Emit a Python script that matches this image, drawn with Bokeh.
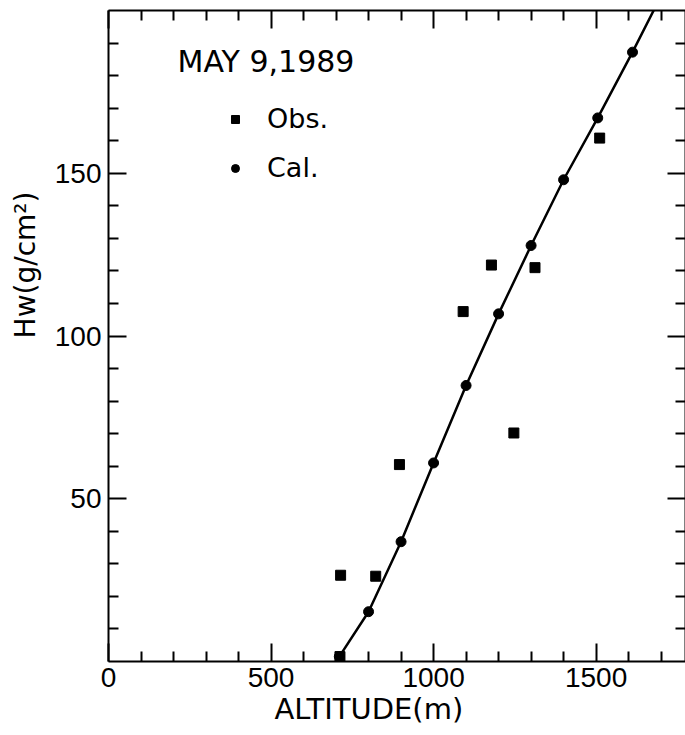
from bokeh.plotting import figure
from bokeh.models import (Range1d, LinearAxis, FixedTicker, Label, Legend, LegendItem,
                          ColumnDataSource, Title, CustomJSTickFormatter)
from bokeh.embed import file_html
from bokeh.resources import INLINE

# ---- data ----
obs_alt = [712, 714, 822, 895, 1091, 1178, 1247, 1312, 1511]
obs_hw = [1.5, 26.5, 26.2, 60.5, 107.5, 121.8, 70.2, 121.0, 160.8]

cal_alt = [710, 800, 900, 1000, 1100, 1200, 1300, 1400, 1505, 1612]
cal_hw = [1.5, 15.3, 36.8, 61.0, 84.8, 106.8, 127.8, 148.0, 167.0, 187.2]

# fitted line: through the calculated points, continued to the top of the frame
line_alt = cal_alt + [1677]
line_hw = cal_hw + [200]

x_major = [0, 500, 1000, 1500]
x_minor = [100, 200, 300, 400, 600, 700, 800, 900, 1100, 1200, 1300, 1400, 1600, 1700]
y_major = [50, 100, 150]
y_minor = [10, 20, 30, 40, 60, 70, 80, 90, 110, 120, 130, 140, 160, 170, 180, 190]

date_text = "MAY 9,1989"
x_title = "ALTITUDE(m)"
y_title = "Hw(g/cm²)"
obs_name = "Obs."
cal_name = "Cal."

WORD_FONT = "DejaVu Sans"
NUM_FONT = "Liberation Sans"

p = figure(width=685, height=735, output_backend="svg", toolbar_location=None,
           x_range=Range1d(0, 1775), y_range=Range1d(0, 200),
           x_axis_location=None, y_axis_location=None,
           min_border_left=108, min_border_right=0, min_border_top=10, min_border_bottom=74)
p.grid.visible = False
p.outline_line_color = None
p.background_fill_color = "white"
p.border_fill_color = "white"


def style_axis(ax, show_labels):
    ax.axis_line_width = 2
    ax.axis_line_color = "black"
    ax.major_tick_in = 18
    ax.major_tick_out = 0
    ax.minor_tick_in = 10
    ax.minor_tick_out = 0
    ax.major_tick_line_width = 2
    ax.minor_tick_line_width = 2
    ax.major_tick_line_color = "black"
    ax.minor_tick_line_color = "black"
    if show_labels:
        ax.major_label_text_font = NUM_FONT
        ax.major_label_text_font_size = "28px"
        ax.major_label_text_color = "black"
    else:
        ax.formatter = CustomJSTickFormatter(code="return ''")
        ax.major_label_standoff = 0


xt = FixedTicker(ticks=x_major, minor_ticks=x_minor)
yt = FixedTicker(ticks=y_major, minor_ticks=y_minor)

bottom = LinearAxis(ticker=xt)
style_axis(bottom, True)
bottom.major_label_standoff = 6
top = LinearAxis(ticker=xt)
style_axis(top, False)
left = LinearAxis(ticker=yt)
style_axis(left, True)
left.major_label_standoff = 7
right = LinearAxis(ticker=yt)
style_axis(right, False)

p.add_layout(bottom, "below")
p.add_layout(top, "above")
p.add_layout(left, "left")
p.add_layout(right, "right")

p.add_layout(Title(text=x_title, align="left", offset=166, standoff=1,
                   text_font=WORD_FONT, text_font_size="29px",
                   text_font_style="normal", text_color="black"), "below")
p.add_layout(Title(text=y_title, align="right", offset=181, standoff=16,
                   vertical_align="top",
                   text_font=WORD_FONT, text_font_size="28px",
                   text_font_style="normal", text_color="black"), "left")

line_src = ColumnDataSource(dict(x=line_alt, y=line_hw))
p.line("x", "y", source=line_src, line_color="black", line_width=2.5)

cal_src = ColumnDataSource(dict(x=cal_alt, y=cal_hw))
r_cal = p.scatter("x", "y", source=cal_src, marker="circle", size=10,
                  fill_color="black", line_color="black")
obs_src = ColumnDataSource(dict(x=obs_alt, y=obs_hw))
r_obs = p.scatter("x", "y", source=obs_src, marker="square", size=10,
                  fill_color="black", line_color="black")

legend = Legend(items=[LegendItem(label=obs_name, renderers=[r_obs]),
                       LegendItem(label=cal_name, renderers=[r_cal])],
                location=(117, 478), orientation="vertical",
                border_line_color=None, background_fill_alpha=0,
                padding=0, margin=0, spacing=18,
                glyph_width=20, glyph_height=30, label_height=30,
                label_standoff=22,
                label_text_font=WORD_FONT, label_text_font_size="27px",
                label_text_color="black")
p.add_layout(legend, "center")

p.add_layout(Label(x=69, y=600, x_units="screen", y_units="screen", text=date_text,
                   text_font=WORD_FONT, text_font_size="30px", text_color="black",
                   text_align="left", text_baseline="alphabetic"))

open("out.html", "w").write(file_html(p, INLINE))
